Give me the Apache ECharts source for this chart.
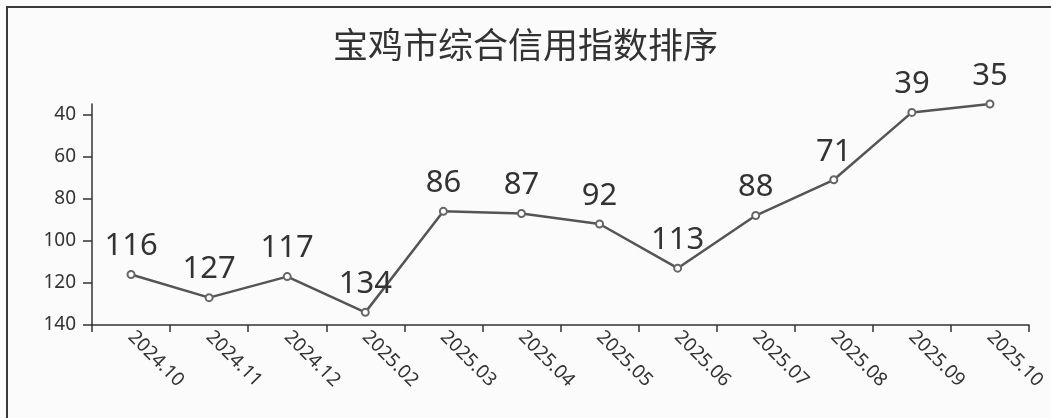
<!DOCTYPE html>
<html>
<head>
<meta charset="utf-8">
<script src="https://cdn.jsdelivr.net/npm/echarts@6/dist/echarts.min.js"></script>
<style>
html,body{margin:0;padding:0;background:#fbfbfb;}
#frame{position:absolute;left:6px;top:6px;width:1100px;height:500px;border-left:2px solid #3a3a3a;border-top:2px solid #3a3a3a;}
#chart{position:absolute;left:0;top:0;width:1051px;height:418px;}
</style>
</head>
<body>
<div id="frame"></div>
<div id="chart"></div>
<script>
var titleText = '宝鸡市综合信用指数排序';
var categories = ['2024.10','2024.11','2024.12','2025.02','2025.03','2025.04','2025.05','2025.06','2025.07','2025.08','2025.09','2025.10'];
var rankValues = [116,127,117,134,86,87,92,113,88,71,39,35];
var yMax = 140;

var chart = echarts.init(document.getElementById('chart'));
chart.setOption({
  backgroundColor: 'transparent',
  title: {
    text: titleText,
    left: 'center',
    top: 22,
    textStyle: {fontFamily: '"Noto Sans CJK SC", sans-serif', fontSize: 35, fontWeight: 'normal', color: '#333'}
  },
  grid: {left: 92, right: 22, top: 104, bottom: 93},
  xAxis: {
    type: 'category',
    data: categories,
    boundaryGap: true,
    axisLine: {lineStyle: {color: '#333', width: 1.5}},
    axisTick: {show: true, length: 7, lineStyle: {color: '#333', width: 1.5}},
    axisLabel: {rotate: -45, fontSize: 19, color: '#333', fontFamily: '"Noto Sans", sans-serif', margin: 9, interval: 0}
  },
  yAxis: {
    type: 'value',
    inverse: true,
    min: 'dataMin',
    max: yMax,
    splitLine: {show: false},
    axisLine: {show: true, lineStyle: {color: '#333', width: 1.5}},
    axisTick: {show: true, length: 9, lineStyle: {color: '#333', width: 1.5}},
    axisLabel: {showMinLabel: false, fontSize: 19, color: '#333', fontFamily: '"Noto Sans", sans-serif', margin: 16}
  },
  series: [{
    type: 'line',
    data: rankValues,
    symbol: 'emptyCircle',
    symbolSize: 7,
    itemStyle: {color: '#666', borderWidth: 1.5},
    lineStyle: {color: '#555', width: 2.5},
    label: {show: true, position: 'top', distance: 8, fontSize: 31, color: '#333', fontFamily: '"Noto Sans", sans-serif'}
  }]
});
</script>
</body>
</html>
